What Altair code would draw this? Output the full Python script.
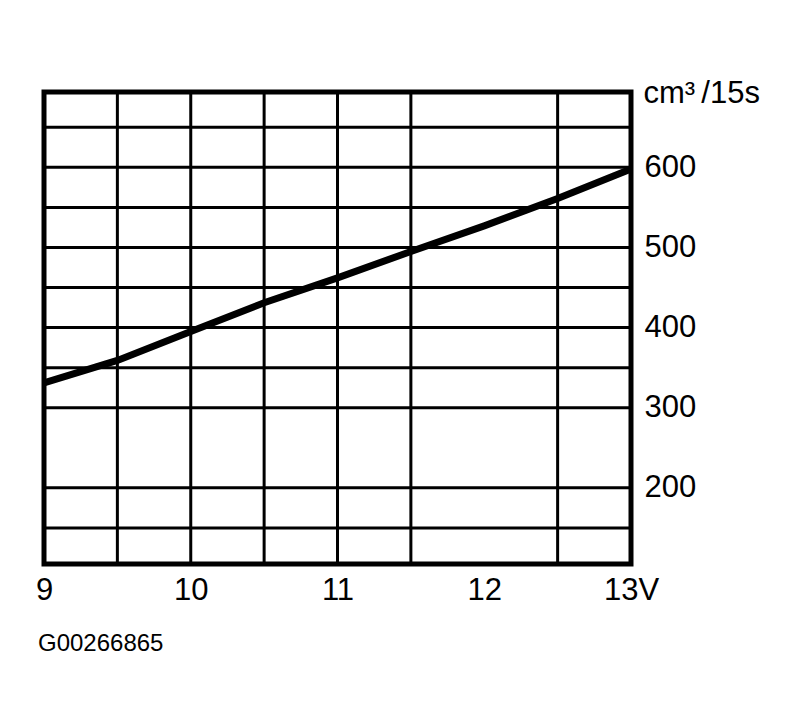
import altair as alt
import pandas as pd

# Data
volt = [9, 9.5, 10, 10.5, 11, 11.5, 12, 12.5, 13]
flow = [331, 359, 395, 431, 462, 495, 527, 561, 598]

x_ticks = [9, 10, 11, 12, 13]
y_ticks = [200, 300, 400, 500, 600]
h_grid = [150, 200, 300, 350, 400, 450, 500, 550, 600, 650]
v_grid = [9.5, 10, 10.5, 11, 11.5, 12.5]

X_DOMAIN = [9, 13]
Y_DOMAIN = [105, 694]

FONT = "Liberation Sans"

curve = pd.DataFrame({"v": volt, "q": flow})
hg = pd.DataFrame({"q": h_grid})
vg = pd.DataFrame({"v": v_grid})

xscale = alt.Scale(domain=X_DOMAIN, nice=False, zero=False)
yscale = alt.Scale(domain=Y_DOMAIN, nice=False, zero=False)

x_axis = alt.Axis(
    values=x_ticks, grid=False, ticks=False, domain=False,
    labelExpr="datum.value == 13 ? '13V' : datum.label",
    labelFontSize=31, labelFont=FONT, labelColor="black",
    labelPadding=11, labelFlush=False, labelOverlap=False, labelBound=False,
    title=None,
)
y_axis = alt.Axis(
    orient="right", values=y_ticks, grid=False, ticks=False, domain=False,
    labelFontSize=31, labelFont=FONT, labelColor="black",
    labelPadding=13, labelAlign="left", labelBaseline="middle",
    labelOverlap=False, labelBound=False,
    title="cm³\u2009/15s", titleAngle=0, titleAlign="left", titleBaseline="alphabetic",
    titleX=12, titleY=10, titleFontSize=31, titleFont=FONT,
    titleFontWeight="normal", titleColor="black",
)

hrules = alt.Chart(hg).mark_rule(color="black", strokeWidth=3).encode(
    y=alt.Y("q:Q", scale=yscale, axis=y_axis)
)
vrules = alt.Chart(vg).mark_rule(color="black", strokeWidth=3).encode(
    x=alt.X("v:Q", scale=xscale, axis=x_axis)
)
line = alt.Chart(curve).mark_line(color="black", strokeWidth=7, strokeCap="butt").encode(
    x=alt.X("v:Q", scale=xscale, axis=x_axis),
    y=alt.Y("q:Q", scale=yscale, axis=y_axis),
)

chart = (
    alt.layer(hrules, vrules, line)
    .properties(
        width=587,
        height=472,
        autosize=alt.AutoSizeParams(type="none"),
        padding={"left": 36, "top": 84, "right": 150, "bottom": 110},
        title=alt.TitleParams(
            text="G00266865", orient="bottom", anchor="start",
            fontSize=24, font=FONT, fontWeight="normal", color="black",
            offset=27, dx=8,
        ),
    )
    .configure(background="white", view=alt.ViewConfig(stroke="black", strokeWidth=5))
)

chart.save("out.html", embed_options={"renderer": "svg", "actions": False})
